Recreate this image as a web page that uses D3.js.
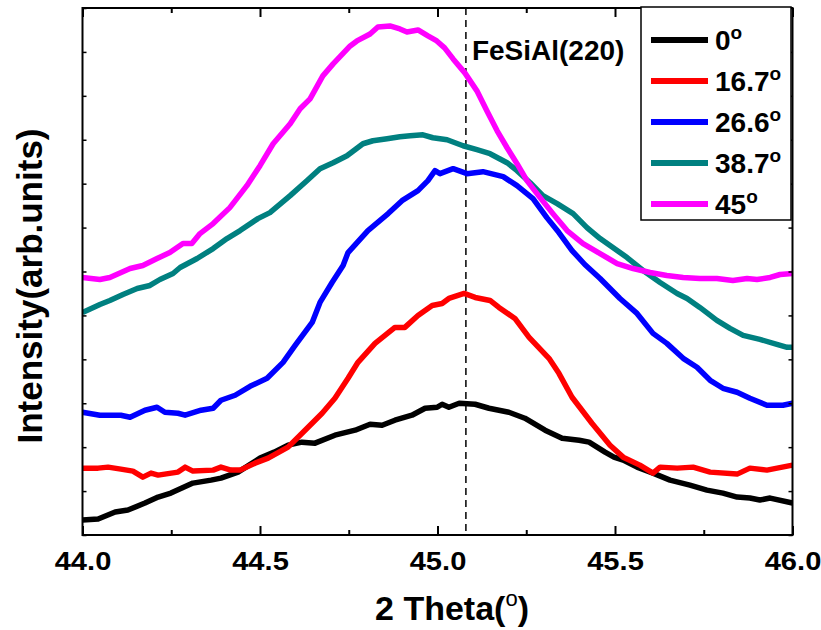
<!DOCTYPE html>
<html>
<head>
<meta charset="utf-8">
<script src="https://cdn.jsdelivr.net/npm/d3@7"></script>
<style>
  body { margin: 0; background: #fff; }
  svg { display: block; }
  text { font-family: Arial, "Liberation Sans", sans-serif; font-weight: bold; fill: #000; }
</style>
</head>
<body>
<svg id="chart" width="821" height="630"></svg>
<script>
// XRD scans around the FeSiAl (220) reflection, one per tilt angle: [2θ (deg), intensity (counts, a.u.)]
const scan0 = [[44.000,15],[44.044,16],[44.092,23],[44.128,25],[44.176,32],[44.213,38],[44.249,42],[44.311,52],[44.362,55],[44.390,57],[44.438,63],[44.500,77],[44.540,83],[44.579,90],[44.618,93],[44.655,92],[44.711,100],[44.768,105],[44.810,111],[44.844,110],[44.880,115],[44.928,120],[44.965,127],[44.999,128],[45.013,131],[45.032,128],[45.061,132],[45.106,131],[45.145,127],[45.201,123],[45.246,117],[45.303,105],[45.351,97],[45.399,95],[45.427,93],[45.472,83],[45.497,78],[45.523,75],[45.562,68],[45.607,62],[45.655,55],[45.711,50],[45.759,45],[45.804,42],[45.844,38],[45.880,37],[45.908,35],[45.937,37],[46.000,32]];
const scan16_7 = [[44.000,67],[44.044,67],[44.072,68],[44.108,66],[44.142,64],[44.170,58],[44.193,62],[44.213,60],[44.269,63],[44.289,68],[44.311,64],[44.368,65],[44.390,68],[44.418,65],[44.444,65],[44.486,72],[44.523,77],[44.579,88],[44.627,105],[44.675,122],[44.711,137],[44.748,157],[44.776,173],[44.824,192],[44.880,208],[44.908,208],[44.945,220],[44.985,230],[45.013,232],[45.032,237],[45.075,242],[45.106,238],[45.148,235],[45.173,228],[45.218,217],[45.258,198],[45.314,177],[45.342,162],[45.379,138],[45.435,112],[45.486,90],[45.523,78],[45.570,70],[45.607,62],[45.627,68],[45.675,67],[45.720,68],[45.768,63],[45.844,61],[45.880,67],[45.928,65],[46.000,70]];
const scan26_6 = [[44.000,123],[44.049,120],[44.108,120],[44.134,118],[44.176,125],[44.210,128],[44.232,123],[44.269,122],[44.289,120],[44.334,125],[44.368,127],[44.390,135],[44.430,140],[44.472,149],[44.520,157],[44.565,173],[44.599,190],[44.647,213],[44.669,233],[44.703,253],[44.734,270],[44.748,283],[44.804,305],[44.861,322],[44.900,335],[44.945,345],[44.973,355],[44.993,365],[45.007,362],[45.044,367],[45.083,362],[45.128,364],[45.185,359],[45.224,350],[45.269,337],[45.308,318],[45.342,303],[45.379,285],[45.415,271],[45.458,257],[45.486,247],[45.514,237],[45.562,222],[45.607,202],[45.646,192],[45.692,177],[45.731,168],[45.768,155],[45.804,147],[45.844,143],[45.880,137],[45.928,130],[45.973,130],[46.000,132]];
const scan38_7 = [[44.000,223],[44.049,231],[44.077,235],[44.114,241],[44.154,247],[44.190,250],[44.218,256],[44.255,262],[44.275,268],[44.323,277],[44.368,287],[44.407,297],[44.444,305],[44.494,317],[44.528,323],[44.585,340],[44.632,355],[44.669,367],[44.706,373],[44.745,380],[44.790,392],[44.818,395],[44.858,397],[44.894,399],[44.923,400],[44.959,401],[44.987,398],[45.027,396],[45.072,390],[45.111,386],[45.148,382],[45.196,373],[45.224,365],[45.261,353],[45.297,340],[45.337,332],[45.382,322],[45.421,308],[45.458,297],[45.494,288],[45.534,278],[45.579,265],[45.627,253],[45.675,242],[45.703,237],[45.739,228],[45.787,215],[45.824,207],[45.861,200],[45.908,196],[45.956,191],[45.985,188],[46.000,188]];
const scan45 = [[44.000,258],[44.049,256],[44.077,258],[44.134,267],[44.170,270],[44.210,277],[44.246,283],[44.283,292],[44.308,292],[44.331,302],[44.368,312],[44.415,328],[44.463,350],[44.500,370],[44.537,392],[44.585,412],[44.613,427],[44.641,437],[44.677,460],[44.706,472],[44.754,490],[44.773,495],[44.810,502],[44.832,509],[44.866,510],[44.894,507],[44.914,504],[44.945,506],[44.973,500],[44.998,495],[45.020,488],[45.044,477],[45.077,463],[45.111,445],[45.139,425],[45.168,405],[45.196,388],[45.224,372],[45.252,355],[45.289,338],[45.325,322],[45.365,305],[45.410,292],[45.458,282],[45.506,272],[45.551,267],[45.599,263],[45.646,260],[45.692,258],[45.739,257],[45.787,257],[45.832,255],[45.872,257],[45.900,256],[45.937,258],[45.965,261],[46.000,262]];

const scans = [scan0, scan16_7, scan26_6, scan38_7, scan45];
const tiltAngles = ["0", "16.7", "26.6", "38.7", "45"];
const lineColors = ["#000000", "#ff0000", "#0000ff", "#008080", "#ff00ff"];

const xMajorTicks = [44.0, 44.5, 45.0, 45.5, 46.0];
const xMinorTicks = [44.25, 44.75, 45.25, 45.75];
const peakPosition = 45.08;
const peakLabel = "FeSiAl(220)";

const svg = d3.select("#chart");
const plotLeft = 82.5, plotRight = 792.5, plotTop = 8, plotBottom = 535;

const x = d3.scaleLinear().domain([44, 46]).range([plotLeft, plotRight]);
const y = d3.scaleLinear().domain([0, 528]).range([plotBottom, plotTop]);
const yTicks = d3.range(0, 529, 44);

// clip for the traces
svg.append("defs").append("clipPath").attr("id", "plotClip")
  .append("rect").attr("x", plotLeft).attr("y", plotTop)
  .attr("width", plotRight - plotLeft).attr("height", plotBottom - plotTop);

// reference line at the (220) peak
svg.append("line")
  .attr("x1", x(peakPosition)).attr("x2", x(peakPosition))
  .attr("y1", plotTop).attr("y2", plotBottom)
  .attr("stroke", "#000").attr("stroke-width", 1.5)
  .attr("stroke-dasharray", "7,5");

// traces
const line = d3.line().x(d => x(d[0])).y(d => y(d[1]));
svg.append("g").attr("clip-path", "url(#plotClip)")
  .selectAll("path").data(scans).join("path")
  .attr("d", line)
  .attr("fill", "none")
  .attr("stroke", (d, i) => lineColors[i])
  .attr("stroke-width", 5.5)
  .attr("stroke-linejoin", "round")
  .attr("stroke-linecap", "butt");

// axes with inward ticks
function xAxis(gen, yPos, size, values, withLabels) {
  const g = svg.append("g").attr("transform", `translate(0,${yPos})`)
    .call(gen(x).tickValues(values).tickSizeInner(size).tickSizeOuter(0)
      .tickFormat(withLabels ? d3.format(".1f") : ""));
  g.select(".domain").remove();
  g.selectAll(".tick line").attr("stroke", "#000").attr("stroke-width", 2);
  return g;
}
const bottomAxis = xAxis(d3.axisBottom, plotBottom, -9, xMajorTicks, true);
bottomAxis.selectAll(".tick text")
  .attr("y", 35).attr("dy", 0)
  .attr("transform", "scale(1.12,1)")
  .style("font-size", "26px").style("font-weight", "bold")
  .style("font-family", "Arial, 'Liberation Sans', sans-serif");
xAxis(d3.axisBottom, plotBottom, -5, xMinorTicks, false);
xAxis(d3.axisTop, plotTop, -9, xMajorTicks, false);
xAxis(d3.axisTop, plotTop, -5, xMinorTicks, false);

function yAxis(gen, xPos, size) {
  const g = svg.append("g").attr("transform", `translate(${xPos},0)`)
    .call(gen(y).tickValues(yTicks).tickSizeInner(size).tickSizeOuter(0).tickFormat(""));
  g.select(".domain").remove();
  g.selectAll(".tick line").attr("stroke", "#000").attr("stroke-width", 1.5);
}
yAxis(d3.axisLeft, plotLeft, -4);
yAxis(d3.axisRight, plotRight, -4);

// frame
svg.append("rect")
  .attr("x", plotLeft).attr("y", plotTop)
  .attr("width", plotRight - plotLeft).attr("height", plotBottom - plotTop)
  .attr("fill", "none").attr("stroke", "#000").attr("stroke-width", 2);

// peak annotation
svg.append("text")
  .attr("x", x(peakPosition) + 6).attr("y", 60)
  .style("font-size", "28px")
  .text(peakLabel);

// legend
const legend = svg.append("g");
legend.append("rect")
  .attr("x", 641).attr("y", 7).attr("width", 150).attr("height", 213)
  .attr("fill", "#fff").attr("stroke", "#000").attr("stroke-width", 1.5);
const rowY = d3.scalePoint().domain(tiltAngles).range([40, 204]);
const rows = legend.selectAll("g.row").data(tiltAngles).join("g")
  .attr("class", "row")
  .attr("transform", d => `translate(0,${rowY(d)})`);
rows.append("line")
  .attr("x1", 651).attr("x2", 708)
  .attr("stroke", (d, i) => lineColors[i]).attr("stroke-width", 6);
const rowText = rows.append("text")
  .attr("x", 715).attr("y", 10)
  .style("font-size", "28px");
rowText.append("tspan").text(d => d);
rowText.append("tspan").attr("dy", -11).style("font-size", "19px").text("o");

// axis titles
const xt = svg.append("text")
  .attr("x", 452).attr("y", 620)
  .attr("text-anchor", "middle")
  .style("font-size", "34px");
xt.append("tspan").text("2 Theta(");
xt.append("tspan").attr("dy", -14).style("font-size", "22px").style("font-weight", "normal").text("o");
xt.append("tspan").attr("dy", 14).text(")");

svg.append("text")
  .attr("transform", "translate(42,286) rotate(-90)")
  .attr("text-anchor", "middle")
  .style("font-size", "35px")
  .text("Intensity(arb.units)");
</script>
</body>
</html>
